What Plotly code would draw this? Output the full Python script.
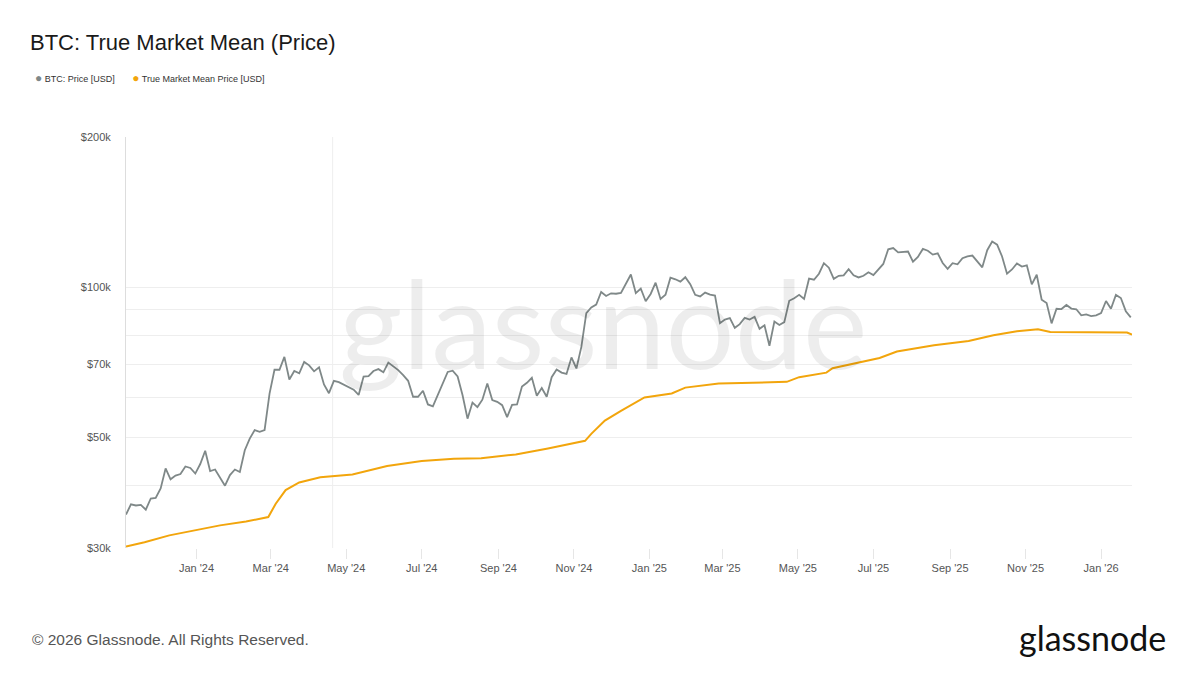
import pandas as pd
import plotly.graph_objects as go

# BTC price, sampled every 4 days from 2023-11-05 (USD, thousands)
price_start = "2023-11-05"
btc_price_k = [
    35.0, 36.7, 36.5, 36.6, 35.8, 37.7, 37.8, 39.5, 43.3, 41.2, 41.9, 42.2, 43.7, 43.4, 42.3,
    44.2, 47.0, 42.8, 43.1, 41.6, 40.0, 42.0, 43.1, 42.6, 47.1, 49.7, 51.7, 51.3, 51.7, 61.2,
    68.3, 68.3, 72.5, 65.3, 67.9, 67.2, 70.8, 69.7, 67.8, 69.1, 63.8, 61.3, 64.9, 64.5, 63.8,
    62.9, 62.3, 60.8, 66.2, 66.3, 67.9, 68.5, 67.5, 70.6, 69.3, 68.2, 66.6, 64.9, 60.3, 60.3,
    62.0, 58.2, 57.7, 60.8, 63.9, 67.6, 68.0, 66.2, 60.7, 54.5, 58.7, 57.5, 59.5, 64.1, 59.4,
    58.9, 58.0, 54.9, 58.1, 58.2, 63.2, 64.3, 65.8, 60.6, 62.8, 60.3, 66.0, 68.4, 67.4, 67.0,
    72.3, 68.7, 75.9, 88.7, 91.1, 92.3, 97.8, 96.0, 97.2, 97.0, 97.4, 101.4, 106.0, 97.3, 99.4,
    93.7, 96.9, 102.1, 94.7, 96.6, 104.5, 103.7, 102.6, 104.7, 101.4, 96.5, 95.8, 97.5, 96.6,
    96.2, 84.7, 86.1, 86.7, 82.9, 84.3, 86.8, 86.1, 87.2, 82.5, 83.9, 76.3, 85.3, 84.0, 85.1,
    93.9, 95.0, 96.5, 94.7, 104.0, 103.5, 106.4, 111.7, 109.4, 103.9, 105.4, 105.6, 108.6,
    105.6, 104.6, 105.4, 107.1, 105.7, 108.2, 111.3, 119.1, 119.8, 117.4, 117.6, 117.9, 112.5,
    115.0, 119.3, 118.3, 116.2, 116.9, 111.8, 108.8, 111.7, 111.1, 114.3, 115.3, 115.7, 112.7,
    109.6, 118.6, 123.5, 121.7, 115.2, 106.4, 108.5, 111.6, 110.0, 110.6, 101.3, 105.9, 94.4,
    92.9, 84.6, 90.5, 90.4, 92.1, 90.6, 90.3, 87.8, 88.2, 87.5, 87.8, 88.7, 93.8, 90.5, 96.5,
    95.1, 89.5, 87.0,
]

# True Market Mean (USD, thousands)
tmm_dates = [
    "2023-11-05", "2023-11-20", "2023-12-10", "2024-01-01", "2024-01-20", "2024-02-10",
    "2024-02-28", "2024-03-05", "2024-03-13", "2024-03-24", "2024-04-10", "2024-05-06",
    "2024-06-03", "2024-07-01", "2024-07-27", "2024-08-18", "2024-09-15", "2024-10-11",
    "2024-11-10", "2024-11-15", "2024-11-26", "2024-12-09", "2024-12-28", "2025-01-19",
    "2025-01-30", "2025-02-26", "2025-04-22", "2025-05-02", "2025-05-24", "2025-05-29",
    "2025-06-20", "2025-07-06", "2025-07-20", "2025-08-19", "2025-09-16", "2025-10-06",
    "2025-10-25", "2025-11-11", "2025-11-21", "2026-01-01", "2026-01-22", "2026-01-26",
]
tmm_k = [
    30.2, 30.8, 31.8, 32.6, 33.3, 33.9,
    34.6, 36.8, 39.2, 40.6, 41.6, 42.1,
    43.8, 44.8, 45.3, 45.4, 46.2, 47.5,
    49.2, 50.8, 54.0, 56.5, 60.1, 61.2,
    62.9, 64.1, 64.6, 66.0, 67.4, 68.8,
    70.6, 72.1, 74.3, 76.5, 78.0, 80.1,
    81.6, 82.3, 81.3, 81.0, 81.1, 80.3,
]

y_ticks = [30000, 40000, 50000, 60000, 70000, 80000, 90000, 100000, 200000]
y_labels = ["$30k", "", "$50k", "", "$70k", "", "", "$100k", "$200k"]

GREY = "#7f8888"
ORANGE = "#f2a50c"

price_dates = pd.date_range(price_start, periods=len(btc_price_k), freq="4D")
btc_price = [v * 1000 for v in btc_price_k]
tmm = [v * 1000 for v in tmm_k]

fig = go.Figure()
fig.add_trace(go.Scatter(x=price_dates, y=btc_price, mode="lines", name="BTC: Price [USD]",
                         line=dict(color=GREY, width=1.8), showlegend=False))
fig.add_trace(go.Scatter(x=pd.to_datetime(tmm_dates), y=tmm, mode="lines",
                         name="True Market Mean Price [USD]",
                         line=dict(color=ORANGE, width=2), showlegend=False))

# halving marker
fig.add_shape(type="line", x0="2024-04-20", x1="2024-04-20", y0=0, y1=1,
              xref="x", yref="paper", line=dict(color="#eeeeee", width=1), layer="below")

# page body adds an 8px offset; pixel positions below are for the rendered page
OFF = 8
L, R, T, B = 126 - OFF, 1132 - OFF, 137 - OFF, 548 - OFF
PW, PH = R - L, B - T


def px_x(x):
    return (x - OFF - L) / PW


def px_y(y):
    return (B - (y - OFF)) / PH


fig.update_layout(
    width=1200, height=675,
    paper_bgcolor="white", plot_bgcolor="white",
    margin=dict(l=L, r=1200 - R, t=T, b=675 - B),
    font=dict(family="Liberation Sans, Arial, sans-serif", color="#444"),
    title=dict(text="BTC: True Market Mean (Price)", x=(30 - OFF) / 1200, xanchor="left",
               y=1 - (42 - OFF) / 675, yanchor="middle", yref="container",
               font=dict(size=22, color="#1a1a1a")),
    showlegend=False,
    hovermode="x unified",
)

fig.update_xaxes(
    type="date", range=["2023-11-05", "2026-01-26"],
    tick0="2024-01-01", dtick="M2", tickformat="%b '%y",
    showgrid=False, ticks="outside", ticklen=10, tickcolor="#e6e6e6",
    showline=False, zeroline=False, tickfont=dict(size=11, color="#555555"),
)
fig.update_yaxes(
    type="log", range=[4.4771, 5.30103],
    tickvals=y_ticks, ticktext=y_labels,
    showgrid=True, gridcolor="#eeeeee", gridwidth=1,
    showline=True, linecolor="#dddddd", linewidth=1,
    zeroline=False, ticks="", ticklabelstandoff=12,
    tickfont=dict(size=11, color="#555555"),
)

# legend as dot + label
fig.add_annotation(
    text=f'<span style="color:{GREY};font-size:12px">●</span> BTC: Price [USD]'
         f'       <span style="color:{ORANGE};font-size:12px">●</span> True Market Mean Price [USD]',
    xref="paper", yref="paper", x=px_x(33), xanchor="left", y=px_y(78), yanchor="middle",
    showarrow=False, font=dict(size=9, color="#333"))

# watermark
fig.add_annotation(text="glassnode", xref="paper", yref="paper", x=px_x(603), y=px_y(322),
                   showarrow=False, font=dict(size=122, color="rgba(0,0,0,0.07)",
                                              family="Lato, sans-serif"))
# footer
fig.add_annotation(text="© 2026 Glassnode. All Rights Reserved.", xref="paper", yref="paper",
                   x=px_x(30), xanchor="left", y=px_y(639), yanchor="middle",
                   showarrow=False, font=dict(size=15.5, color="#555"))
fig.add_annotation(text="glassnode", xref="paper", yref="paper",
                   x=px_x(1168), xanchor="right", y=px_y(637), yanchor="middle",
                   showarrow=False, font=dict(size=34, color="#111", family="Lato, sans-serif"))

fig.write_html("out.html")
